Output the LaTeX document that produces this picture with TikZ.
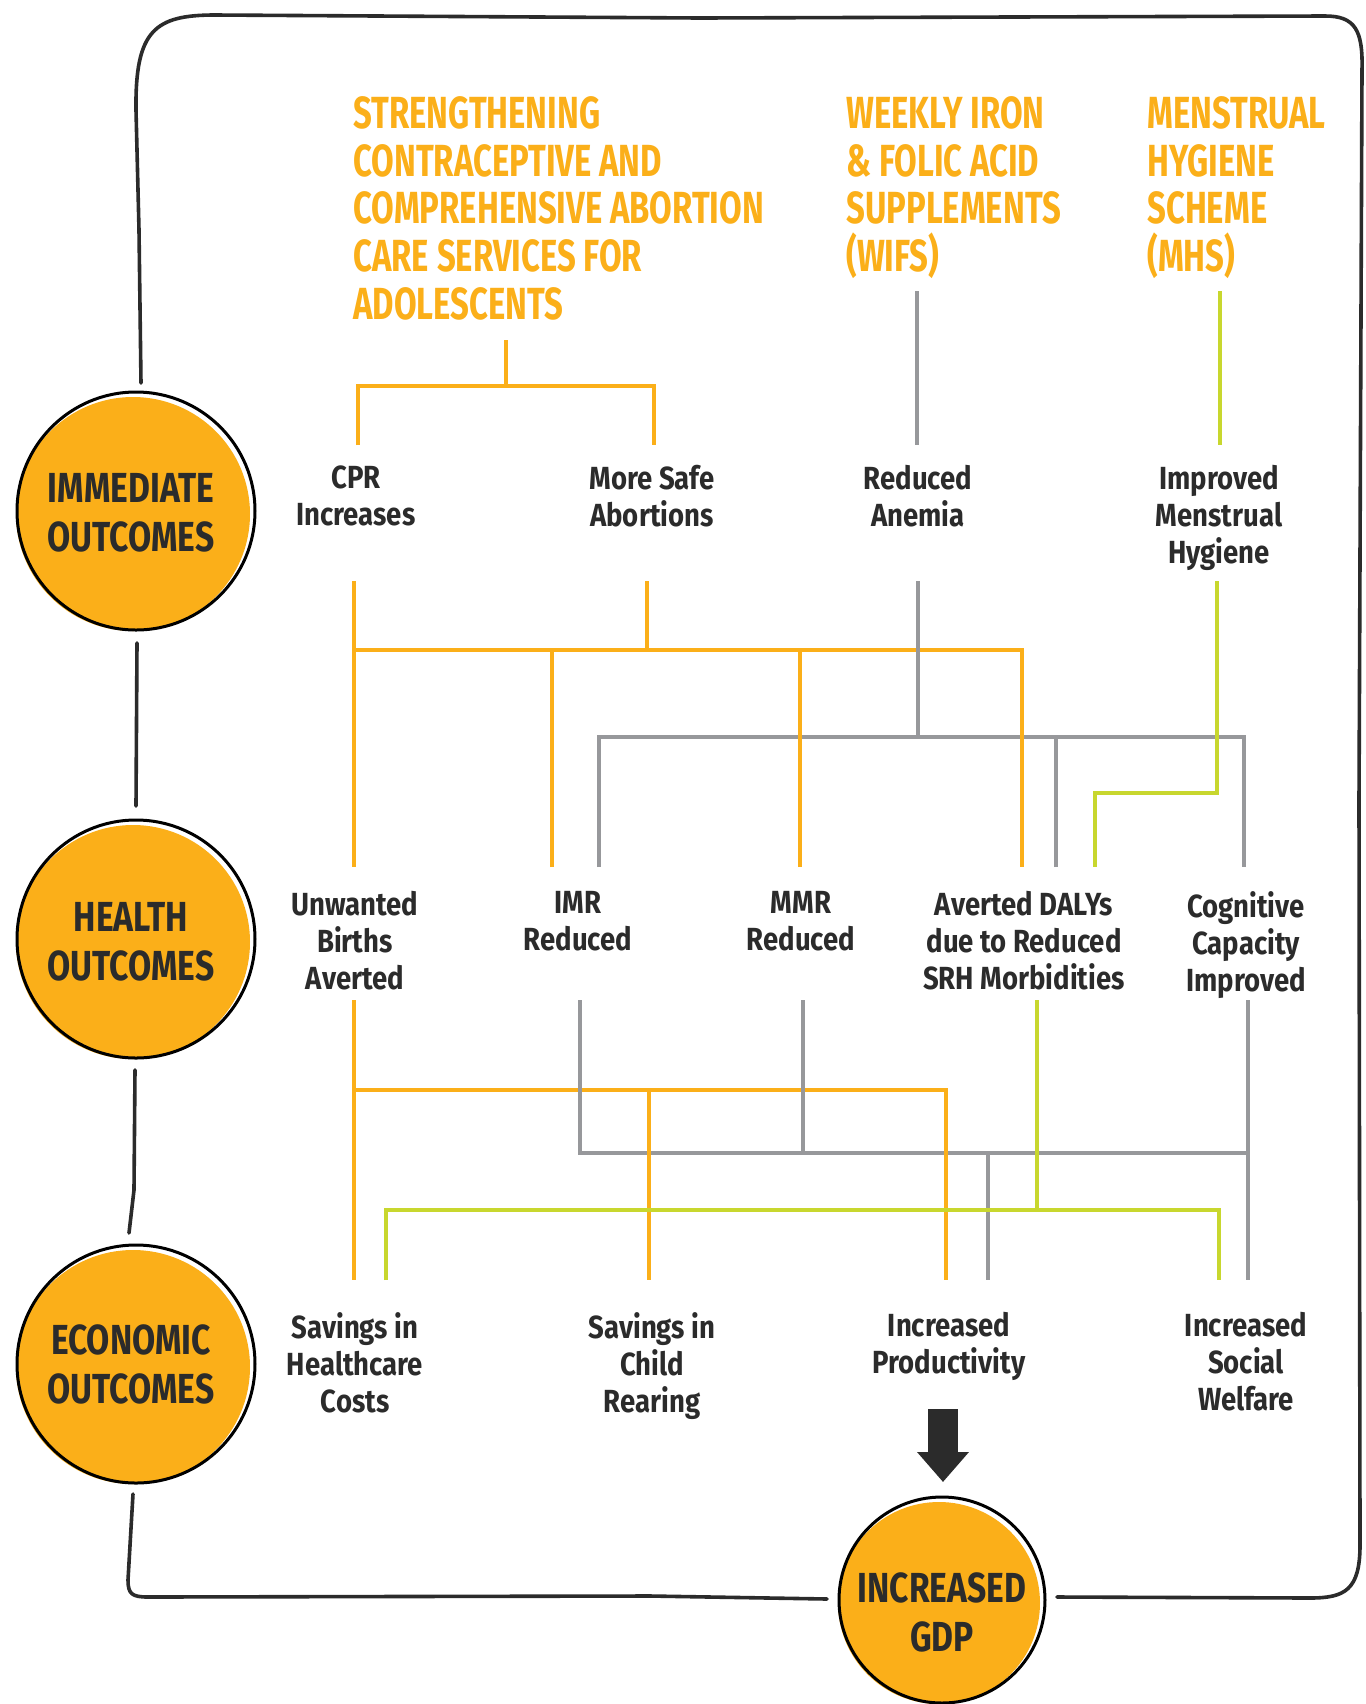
\documentclass[tikz,border=0pt]{standalone}
\usepackage{fontspec}
\setmainfont{Fira Sans}
\newfontfamily\titlefont{Fira Sans}[FakeStretch=0.73]
\newfontfamily\labelfont{Fira Sans}[FakeStretch=0.86]
\newfontfamily\circfont{Fira Sans}[FakeStretch=0.8]
\usetikzlibrary{arrows.meta}
\definecolor{corange}{HTML}{FBAF19}
\definecolor{cgray}{HTML}{97989B}
\definecolor{cgreen}{HTML}{C8D72E}
\definecolor{cdark}{HTML}{2B2B2B}
\tikzset{
  ttl/.style={anchor=north west, align=left, inner sep=0pt, text=corange,
    font=\titlefont\bfseries\fontsize{22.5}{23.9}\selectfont},
  lbl/.style={anchor=north, align=center, inner sep=0pt, text=cdark,
    font=\labelfont\bfseries\fontsize{16}{18.5}\selectfont},
  circtext/.style={align=center, inner sep=0pt, text=cdark,
    font=\circfont\bfseries\fontsize{21}{24.5}\selectfont},
  oline/.style={draw=corange, line width=2.4pt},
  gline/.style={draw=cgray, line width=2.4pt},
  yline/.style={draw=cgreen, line width=2.4pt},
  frameline/.style={draw=cdark, line width=1.8pt, line cap=round, line join=round},
  ringline/.style={draw=black, line width=1.5pt},
}
\begin{document}
\begin{tikzpicture}[x=0.5pt,y=-0.5pt]
\useasboundingbox (0,0) rectangle (1366,1704);
\fill[white] (0,0) rectangle (1366,1704);

% ---------- frame ----------
\draw[frameline] (141,383) -- (139,230) -- (136,110) .. controls (135,30) and (155,15) .. (215,15)
  -- (700,18) -- (1325,16) .. controls (1355,16) and (1363,30) .. (1362,70)
  -- (1359,800) -- (1360,1545) .. controls (1360,1590) and (1345,1598) .. (1310,1598) -- (1057,1597);
\draw[frameline] (137,643) -- (136,806);
\draw[frameline] (135,1070) -- (134,1190) -- (129,1233);
\draw[frameline] (133,1494) -- (128,1580) .. controls (128,1594) and (132,1597) .. (148,1597) -- (650,1596) -- (827,1599);

% ---------- circles ----------
\coordinate (c1) at (136,511);
\coordinate (c2) at (136,939);
\coordinate (c3) at (136,1364);
\coordinate (c4) at (942,1600);
\foreach \c/\r in {c1/119,c2/119,c3/119,c4/103}{
  \fill[corange] ([shift={(-3,3)}]\c) circle[radius=\r-2];
  \draw[ringline] (\c) circle[radius=\r];
}
\node[circtext] (imm) at ([xshift=-2.5pt,yshift=-1pt]c1) {IMMEDIATE\\OUTCOMES};
\node[circtext] (hea) at ([xshift=-2.5pt,yshift=-1.5pt]c2) {HEALTH\\OUTCOMES};
\node[circtext] (eco) at ([xshift=-2.5pt,yshift=0pt]c3) {ECONOMIC\\OUTCOMES};
\node[circtext] (gdp) at ([yshift=-6pt]c4) {INCREASED\\GDP};

% ---------- titles ----------
\node[ttl] (t1) at (353,96) {STRENGTHENING\\CONTRACEPTIVE AND\\COMPREHENSIVE ABORTION\\CARE SERVICES FOR\\ADOLESCENTS};
\node[ttl] (t2) at (846,96) {WEEKLY IRON\\\& FOLIC ACID\\SUPPLEMENTS\\(WIFS)};
\node[ttl] (t3) at (1147,96) {MENSTRUAL\\HYGIENE\\SCHEME\\(MHS)};

% ---------- labels ----------
\node[lbl] (cpr)  at (356,465) {CPR\\Increases};
\node[lbl] (safe) at (652,465) {More Safe\\Abortions};
\node[lbl] (anem) at (918,465) {Reduced\\Anemia};
\node[lbl] (hyg)  at (1219,465) {Improved\\Menstrual\\Hygiene};
\node[lbl] (unw)  at (355,891) {Unwanted\\Births\\Averted};
\node[lbl] (imr)  at (578,891) {IMR\\Reduced};
\node[lbl] (mmr)  at (801,891) {MMR\\Reduced};
\node[lbl] (daly) at (1024,891) {Averted DALYs\\due to Reduced\\SRH Morbidities};
\node[lbl] (cog)  at (1246,891) {Cognitive\\Capacity\\Improved};
\node[lbl] (sav1) at (355,1312) {Savings in\\Healthcare\\Costs};
\node[lbl] (sav2) at (652,1312) {Savings in\\Child\\Rearing};
\node[lbl] (prod) at (949,1312) {Increased\\Productivity};
\node[lbl] (welf) at (1246,1312) {Increased\\Social\\Welfare};

% ---------- ports ----------
\coordinate (t1s) at (506,340);   \coordinate (t1j) at (506,386);
\coordinate (cprT) at (358,445);  \coordinate (safeT) at (654,445);
\coordinate (t2s) at (917,291);   \coordinate (anemT) at (917,445);
\coordinate (t3s) at (1220,291);  \coordinate (hygT) at (1220,445);
\coordinate (cprB) at (354,581);  \coordinate (safeB) at (647,581);
\coordinate (anemB) at (918,581); \coordinate (hygB) at (1217,581);
\coordinate (oj) at (647,650);    \coordinate (gj) at (918,737);
\coordinate (yj) at (1217,793);
\coordinate (unwT) at (354,867);  \coordinate (imrOT) at (552,867);
\coordinate (imrGT) at (599,867); \coordinate (mmrT) at (800,867);
\coordinate (dalyOT) at (1022,867); \coordinate (dalyGT) at (1056,867);
\coordinate (dalyYT) at (1095,867); \coordinate (cogT) at (1244,867);
\coordinate (unwB) at (354,1000); \coordinate (imrB) at (580,1000);
\coordinate (mmrB) at (803,1000); \coordinate (dalyB) at (1037,1000);
\coordinate (cogB) at (1248,1000);
\coordinate (ob) at (649,1090);   \coordinate (gb) at (988,1153);
\coordinate (gb2) at (1248,1153); \coordinate (yb) at (1037,1210);
\coordinate (sav1OT) at (354,1280); \coordinate (sav1YT) at (386,1280);
\coordinate (sav2T) at (649,1280);  \coordinate (prodOT) at (946,1280);
\coordinate (prodGT) at (988,1280); \coordinate (welfYT) at (1219,1280);
\coordinate (welfGT) at (1248,1280);

% ---------- top level connectors ----------
\draw[oline] (t1s) -- (t1j);
\draw[oline] (cprT) |- (t1j) -| (safeT);
\draw[gline] (t2s) -- (anemT);
\draw[yline] (t3s) -- (hygT);

% ---------- immediate -> health ----------
\draw[gline] (imrGT) |- (gj) -| (cogT);
\draw[gline] (dalyGT) -- (dalyGT |- gj);
\draw[oline] (cprB) -- (unwT);
\draw[oline] (cprB |- oj) -| (dalyOT);
\draw[oline] (safeB) -- (oj);
\draw[oline] (imrOT) -- (imrOT |- oj);
\draw[oline] (mmrT) -- (mmrT |- oj);
\draw[gline] (anemB) -- (gj);
\draw[yline] (hygB) -- (yj) -| (dalyYT);

% ---------- health -> economic ----------
\draw[oline] (unwB |- ob) -| (prodOT);
\draw[gline] (imrB) |- (gb2);
\draw[gline] (cogB) -- (welfGT);
\draw[gline] (mmrB) -- (mmrB |- gb);
\draw[gline] (gb) -- (prodGT);
\draw[oline] (unwB) -- (sav1OT);
\draw[oline] (ob) -- (sav2T);
\draw[oline] (prodOT |- ob) -- (prodOT);
\draw[yline] (dalyB) -- (yb);
\draw[yline] (sav1YT) |- (yb) -| (welfYT);

% ---------- arrow to GDP ----------
\coordinate (arrS) at (943,1409);
\coordinate (arrE) at (943,1482);
\draw[draw=cdark, line width=15pt, -{Triangle[width=25pt,length=15pt]}] (arrS) -- (arrE);
\end{tikzpicture}
\end{document}
